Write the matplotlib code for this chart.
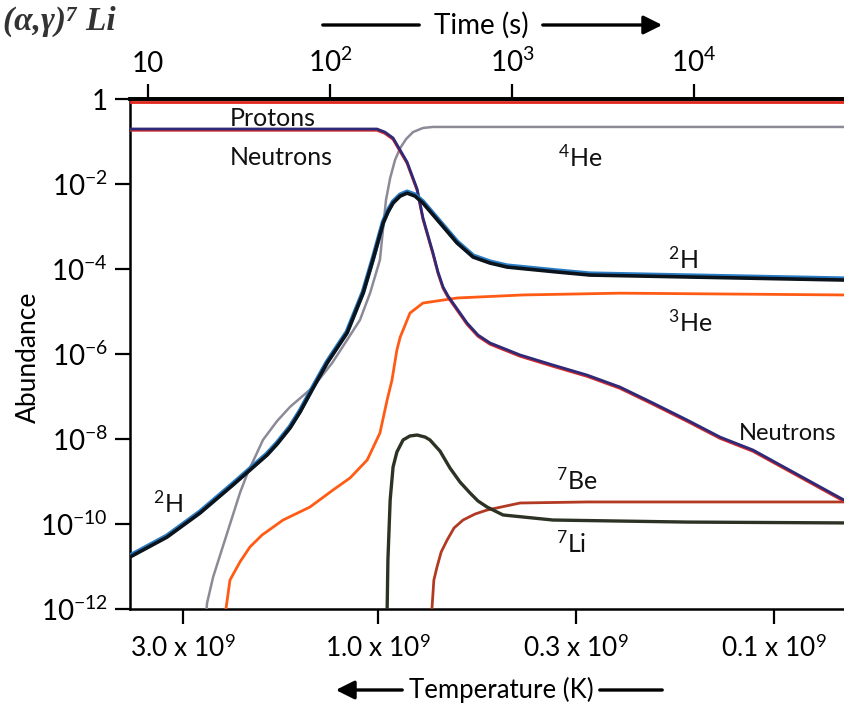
import matplotlib
matplotlib.use('Agg')
import matplotlib.pyplot as plt
from matplotlib import transforms
from matplotlib.ticker import NullLocator

plt.rcParams['font.family'] = ['Lato', 'DejaVu Sans']
plt.rcParams['mathtext.fontset'] = 'custom'
plt.rcParams['mathtext.rm'] = 'Lato'
plt.rcParams['mathtext.it'] = 'Lato:italic'
plt.rcParams['mathtext.bf'] = 'Lato:bold'

# ---------------- data (time in s, abundance) ----------------
protons_t = [7.96, 66700]
protons_Y = [0.85, 0.85]

neutron_t = [7.96, 181, 200, 222, 265, 301, 324, 368, 392, 418, 445, 474, 566, 650,
             757, 1107, 1679, 2582, 3918, 5960, 9160, 13900, 21100, 66700]
neutron_Y = [0.197, 0.197, 0.167, 0.121, 0.033, 7.6e-3, 1.6e-3, 2.38e-4, 8.5e-5, 3.77e-5,
             2.32e-5, 1.58e-5, 5.36e-6, 2.8e-6, 1.82e-6, 9.5e-7, 5.5e-7, 3.2e-7,
             1.67e-7, 7.0e-8, 2.8e-8, 1.11e-8, 5.5e-9, 3.67e-10]

he4_t = [20.3, 21.1, 22.8, 27.2, 32.0, 35.4, 39.2, 42.8, 51.2, 60.3, 80.7, 102.6, 124,
         146, 166, 188, 196, 203, 214, 227.6, 243, 262, 286, 324, 368, 66700]
he4_Y = [1.9e-13, 1.38e-12, 5.7e-12, 6.1e-11, 5.4e-10, 1.67e-9, 4.2e-9, 9.5e-9, 2.65e-8,
         5.7e-8, 1.67e-7, 6.1e-7, 2.13e-6, 6.3e-6, 2.72e-5, 1.63e-4, 9.7e-4, 4.2e-3,
         0.0138, 0.0367, 0.0703, 0.1145, 0.167, 0.208, 0.22, 0.22]

h2_t = [7.96, 12.7, 19.3, 29.3, 45.1, 51.2, 60.3, 68.4, 79.6, 96.3, 124, 152, 172, 196,
        208, 222, 243, 265, 293, 324, 402, 499, 611, 757, 940, 1766, 2685, 66700]
h2_Y = [1.67e-11, 4.9e-11, 1.81e-10, 8.3e-10, 4.2e-9, 7.6e-9, 1.82e-8, 4.3e-8, 1.42e-7,
        6.1e-7, 3.12e-6, 2.72e-5, 1.63e-4, 1.21e-3, 2.19e-3, 3.57e-3, 5.2e-3, 6.1e-3,
        5.2e-3, 3.57e-3, 1.21e-3, 4.09e-4, 1.91e-4, 1.38e-4, 1.11e-4, 8.5e-5, 7.2e-5,
        5.5e-5]

he3_t = [26.5, 26.8, 28.2, 32.0, 36.3, 42.3, 55.2, 77.6, 103.8, 128.8, 160, 188, 206,
         219, 233, 243, 275, 324, 499, 1148, 3918, 66700]
he3_Y = [1.9e-13, 1e-12, 4.8e-12, 1.28e-11, 2.88e-11, 5.5e-11, 1.24e-10, 2.51e-10,
         6.3e-10, 1.21e-9, 3.2e-9, 1.38e-8, 8.3e-8, 2.44e-7, 1.24e-6, 2.5e-6, 9.2e-6,
         1.58e-5, 2.08e-5, 2.45e-5, 2.7e-5, 2.45e-5]

be7_t = [359, 363, 372, 387, 408, 440, 480, 538, 627, 729, 1107, 2582, 66700]
be7_Y = [1.9e-13, 1e-12, 4.8e-12, 9.7e-12, 2.19e-11, 4.2e-11, 8.05e-11, 1.24e-10,
         1.72e-10, 2.13e-10, 3.12e-10, 3.3e-10, 3.3e-10]

li7_t = [203, 206, 208, 214, 222, 233, 252, 275, 301, 333, 354, 402, 456, 518, 587, 650,
         729, 893, 1679, 9160, 66700]
li7_Y = [1.9e-13, 1e-12, 1.42e-11, 3.67e-10, 2.19e-9, 4.94e-9, 9.5e-9, 1.18e-8, 1.24e-8,
         1.11e-8, 9.5e-9, 5.2e-9, 2.08e-9, 9.7e-10, 5.4e-10, 3.48e-10, 2.51e-10,
         1.63e-10, 1.24e-10, 1.11e-10, 1.06e-10]

time_ticks = [10, 100, 1000, 10000]
time_labels = ['10', '$10^2$', '$10^3$', '$10^4$']

temp_tick_times = [15.6, 184, 2249, 27540]
temp_labels = ['3.0 x $10^9$', '1.0 x $10^9$', '0.3 x $10^9$', '0.1 x $10^9$']

y_ticks = [1, 1e-2, 1e-4, 1e-6, 1e-8, 1e-10, 1e-12]
y_labels = ['1', '$10^{-2}$', '$10^{-4}$', '$10^{-6}$', '$10^{-8}$', '$10^{-10}$', '$10^{-12}$']

# ---------------- figure ----------------
W, H = 844, 707
fig = plt.figure(figsize=(W / 100, H / 100), dpi=100)
ax = fig.add_axes([130 / W, 1 - 609 / H, 714 / W, 510 / H])
ax.set_xscale('log')
ax.set_yscale('log')
ax.set_xlim(7.96, 66700)
ax.set_ylim(1e-12, 1)

down = transforms.offset_copy(ax.transData, fig=fig, x=0, y=-1.3, units='dots')
up = transforms.offset_copy(ax.transData, fig=fig, x=0, y=1.3, units='dots')

ax.plot(protons_t, protons_Y, color='#e0261b', lw=2.0, zorder=3)

ax.plot(he4_t, he4_Y, color='#8d8a98', lw=1.8, zorder=3, solid_joinstyle='round')
ax.plot(he3_t, he3_Y, color='#ff5b14', lw=2.0, zorder=3, solid_joinstyle='round')
ax.plot(be7_t, be7_Y, color='#b23a22', lw=2.0, zorder=3, solid_joinstyle='round')
ax.plot(li7_t, li7_Y, color='#2c3324', lw=2.4, zorder=4, solid_joinstyle='round')

ax.plot(neutron_t, neutron_Y, color='#d62a2a', lw=2.0, transform=down, zorder=4,
        solid_joinstyle='round')
ax.plot(neutron_t, neutron_Y, color='#2e2a78', lw=2.0, zorder=5, solid_joinstyle='round')

ax.plot(h2_t, h2_Y, color='#2a7cc4', lw=3.4, transform=up, zorder=5, solid_joinstyle='round')
ax.plot(h2_t, h2_Y, color='#0b141c', lw=2.6, zorder=6, solid_joinstyle='round')

# spines
ax.spines['right'].set_visible(False)
ax.spines['top'].set_linewidth(2.6)
ax.spines['left'].set_linewidth(1.8)
ax.spines['bottom'].set_linewidth(1.8)
ax.spines['top'].set_zorder(7)

# y axis
ax.set_yticks(y_ticks, labels=y_labels)
ax.yaxis.set_minor_locator(NullLocator())
ax.tick_params(axis='y', direction='out', length=11, width=1.6, labelsize=20, pad=5)

# bottom (temperature)
ax.set_xticks(temp_tick_times, labels=temp_labels)
ax.xaxis.set_minor_locator(NullLocator())
ax.tick_params(axis='x', direction='out', length=11, width=1.6, labelsize=19, pad=8)

# top (time)
secax = ax.secondary_xaxis('top')
secax.set_xticks(time_ticks, labels=time_labels)
secax.xaxis.set_minor_locator(NullLocator())
secax.tick_params(direction='out', length=11, width=1.6, labelsize=20, pad=5)
secax.spines['top'].set_linewidth(2.6)

ax.set_ylabel('Abundance', fontsize=19)
ax.yaxis.set_label_coords(-0.125, 0.494)

# curve labels
lbl = dict(fontsize=18, ha='left', va='center', color='#111111')
ax.text(28.2, 0.34, 'Protons', **lbl)
ax.text(28.2, 0.043, 'Neutrons', **lbl)
ax.text(1790, 0.043, '$^4$He', **lbl)
ax.text(7200, 1.72e-4, '$^2$H', **lbl)
ax.text(7200, 5.7e-6, '$^3$He', **lbl)
ax.text(17700, 1.38e-8, 'Neutrons', fontsize=17, ha='left', va='center', color='#111111')
ax.text(1746, 1.08e-9, '$^7$Be', **lbl)
ax.text(1746, 3.57e-11, '$^7$Li', **lbl)
ax.text(10.6, 3.1e-10, '$^2$H', **lbl)

# top-left fragment of page text
fig.text(3 / W, 1 - 21 / H, '(α,γ)⁷ Li', fontsize=24, ha='left', va='center',
         color='#333333', family=['Liberation Serif', 'DejaVu Serif'],
         style='italic', weight='bold')

# arrows and axis titles
fig.text(481 / W, 1 - 25 / H, 'Time (s)', fontsize=20, ha='center', va='center')
ax.annotate('', xy=(422, H - 25), xytext=(320, H - 25), xycoords='figure pixels',
            textcoords='figure pixels',
            arrowprops=dict(arrowstyle='-', lw=2.4, color='black'))
ax.annotate('', xy=(665, H - 25), xytext=(540, H - 25), xycoords='figure pixels',
            textcoords='figure pixels',
            arrowprops=dict(arrowstyle='-|>', lw=2.4, color='black', mutation_scale=28))

fig.text(501 / W, 1 - 690 / H, 'Temperature (K)', fontsize=18.5, ha='center', va='center')
ax.annotate('', xy=(333, H - 690), xytext=(405, H - 690), xycoords='figure pixels',
            textcoords='figure pixels',
            arrowprops=dict(arrowstyle='-|>', lw=2.4, color='black', mutation_scale=28))
ax.annotate('', xy=(665, H - 690), xytext=(597, H - 690), xycoords='figure pixels',
            textcoords='figure pixels',
            arrowprops=dict(arrowstyle='-', lw=2.4, color='black'))

fig.savefig('out.png', dpi=100)
